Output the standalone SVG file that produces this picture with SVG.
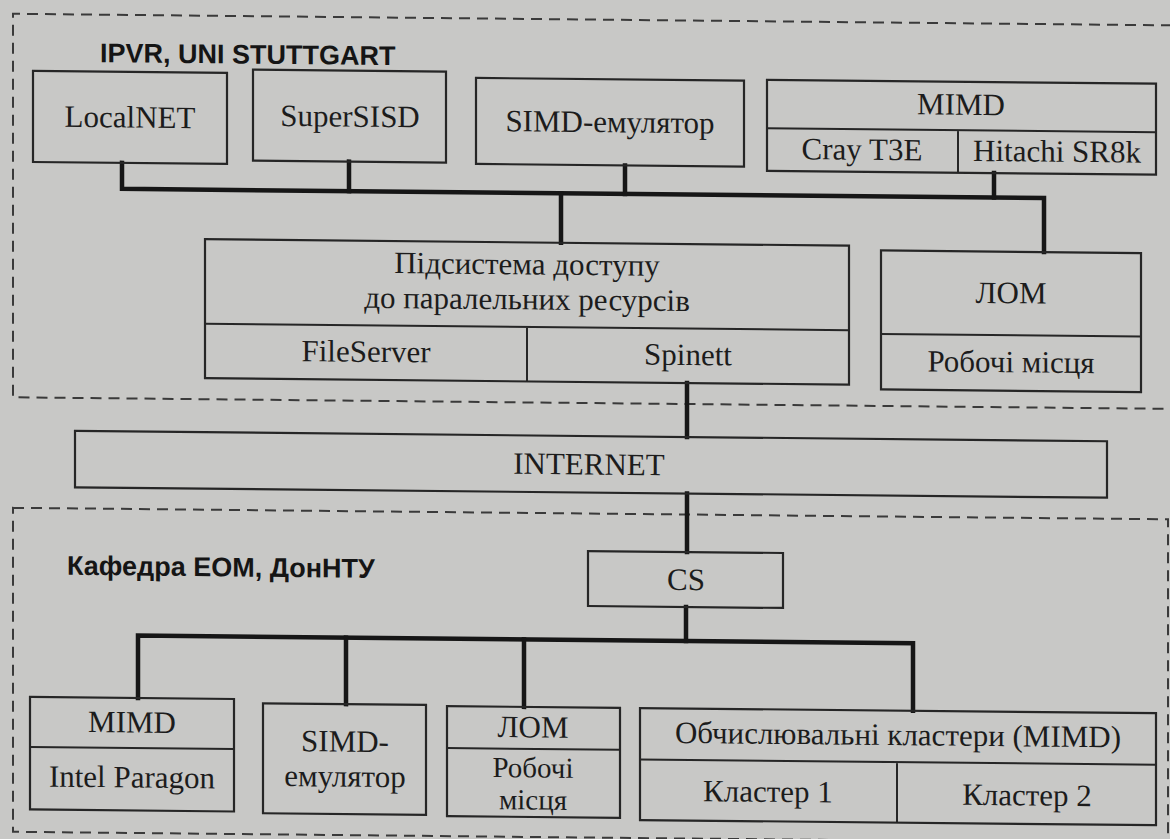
<svg xmlns="http://www.w3.org/2000/svg" width="1170" height="839" viewBox="0 0 1170 839">
<style>
.box{fill:none;stroke:#262626;stroke-width:2.2}
.div{fill:none;stroke:#262626;stroke-width:2}
.region{fill:none;stroke:#3a3a3a;stroke-width:2;stroke-dasharray:11 7}
.conn{fill:none;stroke:#161616;stroke-width:4.5;stroke-linejoin:miter;stroke-linecap:square}
.t{font-family:"Liberation Serif","Times New Roman",serif;font-size:31px;fill:#1c1c1c;text-anchor:middle}
.s{font-size:29px}
.h{font-family:"Liberation Sans",Arial,sans-serif;font-size:27px;font-weight:bold;fill:#151515}
</style>
<rect x="0" y="0" width="1170" height="839" fill="#c8c8c6"/>
<g transform="matrix(1 0.01 0 1 0 -5.85)">
  <g id="regions">
    <path class="region" d="M1190,19.5 H13 V403 H1190"/>
    <rect class="region" x="13" y="513.5" width="1155" height="324"/>
    <text class="h" x="100" y="67">IPVR, UNI STUTTGART</text>
    <text class="h" x="67" y="580">Кафедра ЕОМ, ДонНТУ</text>
  </g>
  <g id="connectors">
    <path class="conn" d="M122,167.5 V193.5 H1044 V247.5"/>
    <path class="conn" d="M349,164 V193.5"/>
    <path class="conn" d="M625,165 V193.5"/>
    <path class="conn" d="M994,169 V193.5"/>
    <path class="conn" d="M561,193.5 V243"/>
    <path class="conn" d="M687,382 V436"/>
    <path class="conn" d="M687,492.5 V551"/>
    <path class="conn" d="M686,606 V640"/>
    <path class="conn" d="M138,702.5 V640 H913 V707.5"/>
    <path class="conn" d="M346,640 V706.5"/>
    <path class="conn" d="M524,640 V707.5"/>
  </g>
  <g id="localnet">
    <rect class="box" x="33" y="76.5" width="194" height="91"/>
    <text class="t" x="130" y="132">LocalNET</text>
  </g>
  <g id="supersisd">
    <rect class="box" x="253" y="73" width="193" height="91"/>
    <text class="t" x="350" y="129">SuperSISD</text>
  </g>
  <g id="simd-top">
    <rect class="box" x="476" y="79" width="268" height="86"/>
    <text class="t" x="610" y="132">SIMD-емулятор</text>
  </g>
  <g id="mimd-top">
    <rect class="box" x="767" y="78" width="389" height="91"/>
    <path class="div" d="M767,126.5 H1156 M958,126.5 V169"/>
    <text class="t" x="961" y="111">MIMD</text>
    <text class="t" x="862" y="157">Cray T3E</text>
    <text class="t" x="1057" y="157">Hitachi SR8k</text>
  </g>
  <g id="subsystem">
    <rect class="box" x="205" y="243" width="644" height="139"/>
    <path class="div" d="M205,327.5 H849 M527,327.5 V382"/>
    <text class="t" x="527" y="275">Підсистема доступу</text>
    <text class="t" x="527" y="310">до паралельних ресурсів</text>
    <text class="t" x="366" y="364">FileServer</text>
    <text class="t" x="688" y="364">Spinett</text>
  </g>
  <g id="lom-top">
    <rect class="box" x="881" y="247.5" width="260" height="139"/>
    <path class="div" d="M881,331 H1141"/>
    <text class="t" x="1011" y="299">ЛОМ</text>
    <text class="t" x="1011" y="368">Робочі місця</text>
  </g>
  <g id="internet">
    <rect class="box" x="75" y="436" width="1032" height="56.5"/>
    <text class="t" x="589" y="474.5">INTERNET</text>
  </g>
  <g id="cs">
    <rect class="box" x="588" y="551" width="195" height="55"/>
    <text class="t" x="686" y="589">CS</text>
  </g>
  <g id="mimd-bottom">
    <rect class="box" x="30" y="702.5" width="204" height="112.5"/>
    <path class="div" d="M30,752.5 H234"/>
    <text class="t" x="132" y="737">MIMD</text>
    <text class="t" x="132" y="792">Intel Paragon</text>
  </g>
  <g id="simd-bottom">
    <rect class="box" x="263" y="706.5" width="163" height="110"/>
    <text class="t" x="345" y="754">SIMD-</text>
    <text class="t" x="345" y="789">емулятор</text>
  </g>
  <g id="lom-bottom">
    <rect class="box" x="447" y="707.5" width="173" height="110"/>
    <path class="div" d="M447,749.5 H620"/>
    <text class="t" x="533" y="738">ЛОМ</text>
    <text class="t s" x="533" y="778">Робочі</text>
    <text class="t s" x="533" y="810">місця</text>
  </g>
  <g id="clusters">
    <rect class="box" x="640" y="707.5" width="516" height="112"/>
    <path class="div" d="M640,759 H1156 M897,759 V819.5"/>
    <text class="t" x="898" y="742">Обчислювальні кластери (MIMD)</text>
    <text class="t" x="768" y="800">Кластер 1</text>
    <text class="t" x="1027" y="801">Кластер 2</text>
  </g>
</g>
</svg>
